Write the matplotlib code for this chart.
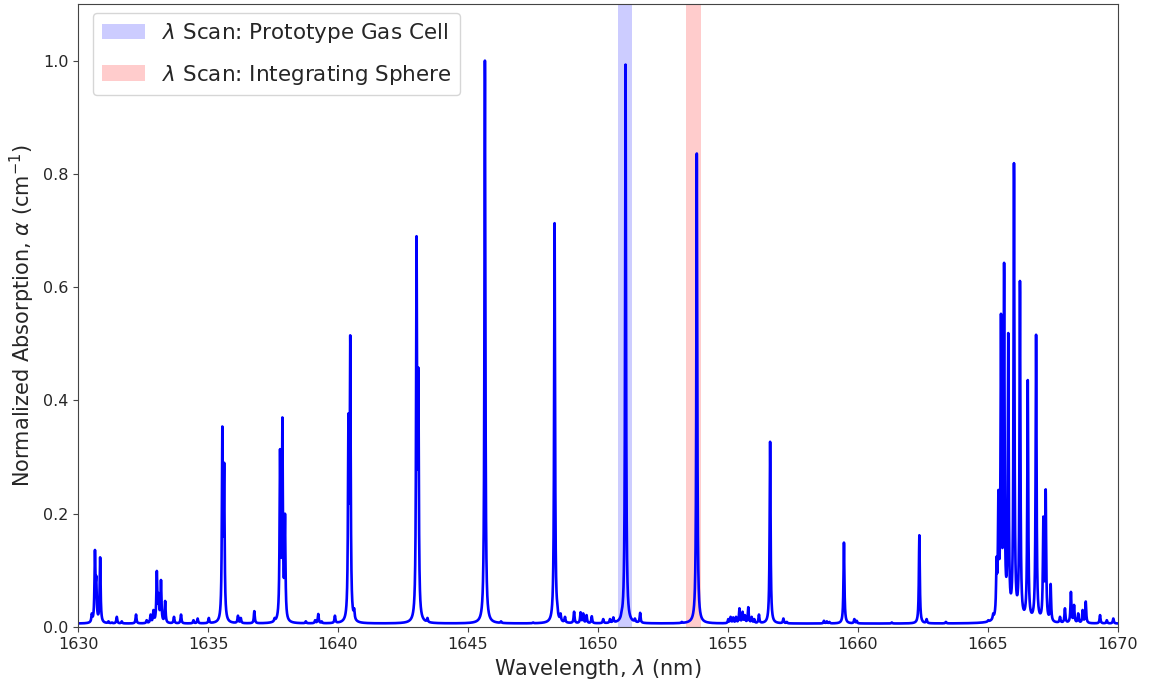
import numpy as np
import matplotlib
matplotlib.use("Agg")
import matplotlib.pyplot as plt

# Absorption line centres (nm) and peak absorption (normalized)
line_centers = [
    1630.53, 1630.65, 1630.70, 1630.85, 1631.17, 1631.30, 1631.49, 1631.68,
    1632.23, 1632.64, 1632.79, 1632.90, 1633.03, 1633.10, 1633.19, 1633.35,
    1633.69, 1633.96, 1634.44, 1634.60, 1635.03, 1635.55, 1635.62, 1636.15,
    1636.26, 1636.78, 1637.56, 1637.77, 1637.86, 1637.96, 1638.76, 1639.12,
    1639.24, 1639.37, 1639.88, 1640.40, 1640.47, 1640.62, 1641.23, 1643.02,
    1643.09, 1643.44, 1645.65, 1646.27, 1646.60, 1647.50, 1648.33, 1648.43,
    1648.56, 1648.73, 1649.08, 1649.33, 1649.43, 1649.56, 1649.76, 1650.20,
    1650.46, 1650.59, 1650.91, 1651.06, 1651.42, 1651.62, 1653.22, 1653.80,
    1654.23, 1655.01, 1655.10, 1655.20, 1655.31, 1655.44, 1655.56, 1655.65,
    1655.78, 1655.91, 1656.01, 1656.19, 1656.62, 1657.13, 1657.26, 1658.69,
    1658.80, 1658.90, 1659.46, 1659.86, 1659.95, 1660.97, 1661.30, 1661.55,
    1662.36, 1662.64, 1663.38, 1665.01, 1665.20, 1665.33, 1665.40, 1665.50,
    1665.62, 1665.78, 1666.00, 1666.23, 1666.53, 1666.85, 1667.13, 1667.22,
    1667.41, 1667.77, 1667.96, 1668.19, 1668.31, 1668.47, 1668.64, 1668.76,
    1669.31, 1669.57, 1669.82,
]
line_peaks = [
    0.024, 0.136, 0.090, 0.123, 0.010, 0.008, 0.018, 0.010,
    0.022, 0.012, 0.022, 0.030, 0.099, 0.060, 0.083, 0.046,
    0.018, 0.022, 0.012, 0.015, 0.016, 0.354, 0.290, 0.020,
    0.016, 0.028, 0.016, 0.314, 0.370, 0.200, 0.010, 0.012,
    0.023, 0.010, 0.020, 0.377, 0.515, 0.033, 0.007, 0.690,
    0.458, 0.016, 1.000, 0.010, 0.006, 0.008, 0.713, 0.044,
    0.024, 0.018, 0.027, 0.026, 0.024, 0.021, 0.019, 0.014,
    0.014, 0.017, 0.030, 0.993, 0.015, 0.025, 0.009, 0.836,
    0.006, 0.014, 0.018, 0.017, 0.018, 0.033, 0.027, 0.021,
    0.035, 0.018, 0.014, 0.022, 0.327, 0.015, 0.009, 0.011,
    0.010, 0.009, 0.149, 0.014, 0.011, 0.006, 0.008, 0.006,
    0.162, 0.014, 0.009, 0.012, 0.024, 0.124, 0.242, 0.553,
    0.643, 0.519, 0.819, 0.611, 0.436, 0.516, 0.195, 0.243,
    0.076, 0.018, 0.033, 0.062, 0.039, 0.024, 0.030, 0.045,
    0.021, 0.012, 0.015,
]

# Wavelength-scan windows (nm)
gas_cell_scan = (1650.78, 1651.32)
sphere_scan = (1653.37, 1653.96)

baseline = 0.006
hwhm = 0.021  # Lorentzian half width (nm)


def lorentz(dx):
    return hwhm ** 2 / (dx ** 2 + hwhm ** 2)


centers = np.array(line_centers)
peaks = np.array(line_peaks)

# Line strengths chosen so the summed profile reaches each listed peak value
overlap = lorentz(centers[:, None] - centers[None, :])
amps, *_ = np.linalg.lstsq(overlap, peaks - baseline, rcond=None)
amps = np.clip(amps, 0, None)

wl = np.linspace(1630, 1670, 20001)
alpha = baseline + (amps[None, :] * lorentz(wl[:, None] - centers[None, :])).sum(axis=1)

text_color = "#262626"
plt.rcParams.update({
    "text.color": text_color,
    "axes.labelcolor": text_color,
    "xtick.color": "#444444",
    "ytick.color": "#444444",
    "xtick.labelcolor": text_color,
    "ytick.labelcolor": text_color,
    "axes.edgecolor": "#444444",
})

fig = plt.figure(figsize=(11.51, 6.90), dpi=100)
ax = fig.add_axes([0.0678, 0.0913, 0.9035, 0.9029])

ax.axvspan(*gas_cell_scan, color="blue", alpha=0.2, lw=0,
           label=r"$\lambda$ Scan: Prototype Gas Cell")
ax.axvspan(*sphere_scan, color="red", alpha=0.2, lw=0,
           label=r"$\lambda$ Scan: Integrating Sphere")
ax.plot(wl, alpha, color="blue", lw=1.9)

ax.set_xlim(1630, 1670)
ax.set_ylim(0, 1.1)
ax.set_yticks([0.0, 0.2, 0.4, 0.6, 0.8, 1.0])
ax.tick_params(labelsize=11.5)
ax.set_xlabel(r"Wavelength, $\lambda$ (nm)", fontsize=15)
ax.set_ylabel(r"Normalized Absorption, $\alpha$ (cm$^{-1}$)", fontsize=15)
ax.legend(loc="upper left", fontsize=15.5, labelspacing=0.8,
          borderaxespad=0, bbox_to_anchor=(0.0144, 0.986))

fig.savefig("out.png", dpi=100)
